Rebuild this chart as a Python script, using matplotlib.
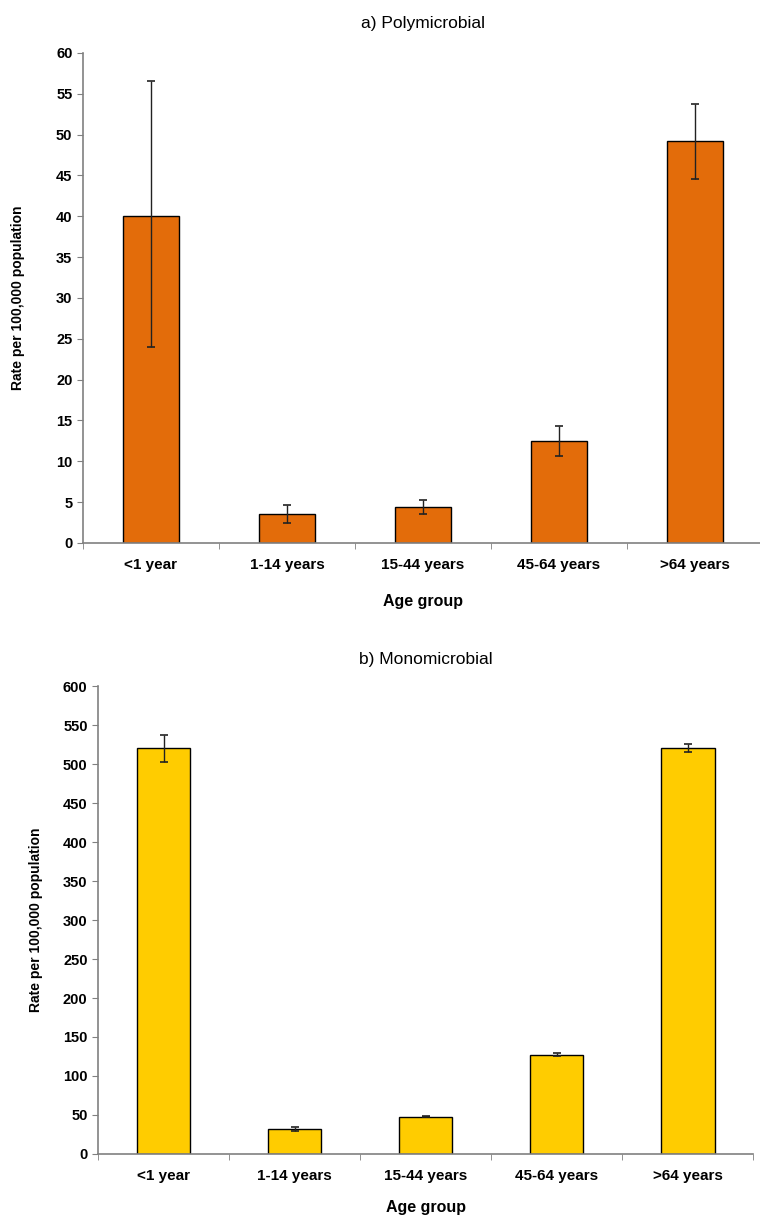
import numpy as np
import matplotlib.pyplot as plt

plt.rcParams['font.family'] = ['Liberation Sans Narrow', 'Liberation Sans', 'DejaVu Sans']

age_groups = ['<1 year', '1-14 years', '15-44 years', '45-64 years', '>64 years']

poly_rate = [40.0, 3.5, 4.4, 12.5, 49.2]
poly_err_low = [16.0, 1.1, 0.9, 1.9, 4.6]
poly_err_high = [16.6, 1.2, 0.9, 1.8, 4.6]

mono_rate = [520, 32, 48, 127, 521]
mono_err_low = [17, 2, 1, 2, 5]
mono_err_high = [17, 2, 1, 2, 5]


def draw_panel(ax, values, err_low, err_high, color, title, ymax, ystep, ypad, xpad, tpad):
    ind = np.arange(len(age_groups))
    ax.bar(ind, values, width=0.41, color=color, edgecolor='black', linewidth=1.0, zorder=2)
    ax.errorbar(ind, values, yerr=[err_low, err_high], fmt='none', ecolor='#222222',
                elinewidth=1.0, capsize=3, capthick=1.2, zorder=3)
    ax.set_xlim(-0.5, len(age_groups) - 0.5)
    ax.set_ylim(0, ymax)
    ax.set_yticks(np.arange(0, ymax + 1, ystep))
    ax.set_xticks(ind)
    ax.set_xticklabels(age_groups, fontsize=11, fontweight='bold')
    ax.set_xticks(np.arange(-0.5, len(age_groups)), minor=True)
    ax.tick_params(axis='x', which='major', length=0, pad=11)
    ax.tick_params(axis='x', which='minor', length=4, direction='out', color='#808080')
    ax.tick_params(axis='y', length=4, direction='out', color='#808080', labelsize=10.5)
    for lab in ax.get_yticklabels():
        lab.set_fontweight('bold')
    for s in ['top', 'right']:
        ax.spines[s].set_visible(False)
    for s in ['left', 'bottom']:
        ax.spines[s].set_color('#808080')
        ax.spines[s].set_linewidth(1.2)
    ax.set_title(title, fontsize=12.5, pad=tpad)
    ax.set_xlabel('Age group', fontsize=11.5, fontweight='bold', labelpad=xpad)
    ax.set_ylabel('Rate per 100,000 population', fontsize=10, fontweight='bold', labelpad=ypad)


fig = plt.figure(figsize=(7.6, 12.2), dpi=100)
ax1 = fig.add_axes([0.109, 0.555, 0.895, 0.4016])
ax2 = fig.add_axes([0.129, 0.0541, 0.862, 0.3836])

draw_panel(ax1, poly_rate, poly_err_low, poly_err_high, '#E36C0A', 'a) Polymicrobial',
           60, 5, 22, 16, 18)
draw_panel(ax2, mono_rate, mono_err_low, mono_err_high, '#FFCC00', 'b) Monomicrobial',
           600, 50, 14, 12, 16)

fig.savefig('out.png', dpi=100)
